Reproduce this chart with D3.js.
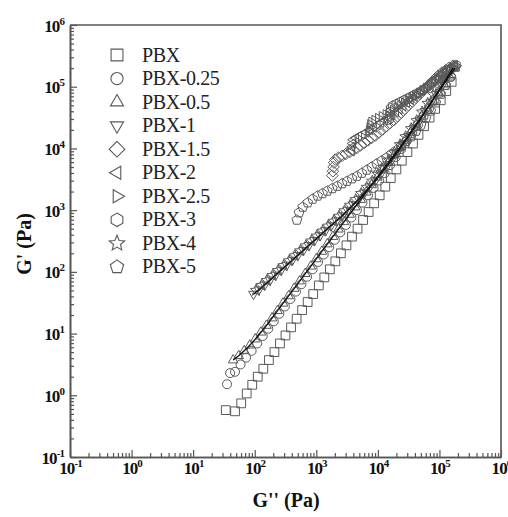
<!DOCTYPE html>
<html>
<head>
<meta charset="utf-8">
<script src="https://cdn.jsdelivr.net/npm/d3@7"></script>
<style>
    body { margin: 0; background: #fff; }
    svg { display: block; }
    text { font-family: "Liberation Serif", "Times New Roman", serif; }
</style>
</head>
<body>
<div id="chart"></div>
<script>
// Data: [G'' (Pa), G' (Pa)] pairs
const seriesNames = ['PBX', 'PBX-0.25', 'PBX-0.5', 'PBX-1', 'PBX-1.5', 'PBX-2', 'PBX-2.5', 'PBX-3', 'PBX-4', 'PBX-5'];

const pbxData = [[33.9,0.575],[47.9,0.55],[60.3,0.74],[74.1,1.07],[91.2,1.48],[112,2.0],[138,2.69],[170,3.72],
    [209,5.01],[257,6.92],[316,9.33],[389,12.6],[479,17.4],[589,24.0],[724,32.4],[891,43.7],[1100,60.3],
    [1350,81.3],[1660,110],[2040,148],[2510,200],[3090,269],[3800,372],[4680,501],[5750,692],[7080,933],
    [8710,1290],[10700,1740],[13200,2400],[16200,3310],[20000,4570],[24500,6310],[30200,8710],[37200,12000],
    [45700,16600],[56200,22900],[69200,31600],[85100,43700],[105000,60300],[129000,85100],[158000,120000]];

const pbx025Data = [[35.5,1.51],[39.8,2.29],[47.9,2.40],[58.9,3.16],[72.4,4.07],[89.1,5.25],[110,6.92],[135,9.12],
    [166,12.0],[204,15.8],[251,20.9],[309,27.5],[380,36.3],[468,47.9],[575,63.1],[708,83.2],[871,110],
    [1070,145],[1320,191],[1620,251],[2000,331],[2450,437],[3020,575],[3720,759],[4570,1000],[5620,1320],
    [6920,1740],[8510,2290],[10500,3020],[12900,3980],[15800,5370],[19500,7240],[24000,9770],[29500,13200],
    [36300,17800],[44700,24000],[55000,32400],[67600,43700],[83200,58900],[102000,79400],[126000,107000],
    [155000,145000]];

const pbx05Data = [[44.7,3.72],[55.0,4.37],[67.6,5.25],[83.2,6.46],[102,8.13],[126,10.5],[155,13.5],[191,17.8],
    [234,23.4],[288,30.9],[355,40.7],[437,53.7],[537,70.8],[661,93.3],[813,123],[1000,162],[1230,214],
    [1510,282],[1860,372],[2290,490],[2820,646],[3470,851],[4270,1120],[5250,1480],[6460,1950],[7940,2570],
    [9770,3390],[12000,4470],[14800,5890],[18200,7760],[22400,10200],[27500,13500],[33900,18200],
    [41700,24500],[51300,33100],[63100,44700],[77600,60300],[95500,81300],[117000,110000],[145000,148000],
    [178000,200000]];

const pbx1Data = [[95.5,43.7],[117,51.3],[145,61.7],[178,74.1],[219,89.1],[269,107],[331,129],[407,155],
    [501,186],[617,224],[759,269],[933,324],[1150,389],[1410,468],[1740,562],[2140,676],[2630,813],
    [3240,1000],[3980,1230],[4900,1510],[6030,1910],[7410,2400],[9120,3020],[11200,3890],[13800,5010],
    [17000,6610],[20900,8710],[25700,11700],[31600,15800],[38900,21400],[47900,28800],[58900,39800],
    [72400,55000],[89100,75900],[110000,105000],[135000,145000],[166000,200000]];

const pbx15Data = [[1820,3630],[1860,4270],[1910,5010],[1950,5890],[2040,6610],[2290,7080],[2630,7590],
    [3020,8130],[3470,8710],[3980,9330],[4570,10200],[5250,11200],[6030,12300],[6920,13500],[7940,14800],
    [9120,16200],[10500,18200],[12000,20400],[13800,22900],[15800,25700],[18200,28800],[20900,33100],
    [24000,38000],[27500,43700],[31600,50100],[36300,57500],[41700,66100],[47900,75900],[55000,87100],
    [63100,100000],[72400,115000],[83200,132000],[95500,151000],[110000,170000],[126000,186000],
    [145000,204000],[166000,219000]];

const pbx2Data = [[3720,9120],[3800,10500],[3890,12000],[3980,13800],[4370,14800],[4900,15800],[5620,17000],
    [6460,18200],[7410,20000],[8510,21900],[9770,24000],[11200,26300],[12900,28800],[14800,31600],
    [17000,34700],[19500,38900],[22400,43700],[25700,49000],[29500,55000],[33900,61700],[38900,69200],
    [44700,77600],[51300,87100],[58900,97700],[67600,110000],[77600,123000],[89100,138000],[102000,155000],
    [117000,170000],[135000,186000],[155000,204000],[178000,219000]];

const pbx25Data = [[7240,19500],[7410,21900],[7590,24500],[7940,26900],[8910,28800],[10200,30900],
    [11700,33100],[13500,35500],[15500,38000],[17800,41700],[20400,45700],[23400,50100],[26900,55000],
    [30900,60300],[35500,66100],[40700,72400],[46800,79400],[53700,87100],[61700,95500],[70800,107000],
    [81300,120000],[93300,135000],[107000,151000],[123000,166000],[141000,182000],[162000,200000],
    [186000,219000]];

const pbx3Data = [[15100,29500],[15500,33900],[15800,38900],[16200,44700],[17400,49000],[20000,52500],
    [22900,56200],[26300,60300],[30200,64600],[34700,69200],[39800,74100],[45700,79400],[52500,87100],
    [60300,95500],[69200,105000],[79400,117000],[91200,132000],[105000,148000],[120000,166000],
    [138000,182000],[158000,200000],[186000,224000]];

const pbx4Data = [[105,50.1],[129,60.3],[158,72.4],[195,87.1],[240,105],[295,126],[363,151],[447,182],
    [550,219],[676,263],[832,316],[1020,380],[1260,457],[1550,550],[1910,661],[2340,794],[2880,977],
    [3550,1200],[4370,1480],[5370,1860],[6610,2340],[8130,2950],[10000,3800],[12300,4900],[15100,6460],
    [18600,8510],[22900,11500],[28200,15500],[34700,20900],[42700,28200],[52500,38900],[64600,53700],
    [79400,74100],[97700,102000],[120000,141000],[148000,195000]];

const pbx5Data = [[484,692],[525,912],[603,1120],[724,1320],[871,1510],[1050,1700],[1260,1860],[1510,2040],
    [1820,2240],[2190,2450],[2630,2690],[3160,2950],[3800,3240],[4570,3550],[5500,3980],[6610,4470],
    [7940,5010],[9550,5620],[11500,6310],[13800,7080],[16600,8130],[20000,9330],[24000,11000],[28800,12900],
    [34700,15500],[41700,19100],[50100,24000],[60300,30900],[72400,40700],[87100,55000],[105000,75900],
    [126000,105000],[151000,145000],[182000,209000]];

const seriesData = [pbxData, pbx025Data, pbx05Data, pbx1Data, pbx15Data, pbx2Data, pbx25Data, pbx3Data, pbx4Data, pbx5Data];
const fittedSeries = [pbx05Data, pbx1Data];

const majorExponents = [-1, 0, 1, 2, 3, 4, 5, 6];

// Configuration
const config = {
    width: 508,
    height: 517,
    left: 70,
    right: 501,
    top: 25,
    bottom: 457,
    markerColor: '#5a5a5a',
    axisColor: '#555'
};

// Marker shapes: size is passed as radius squared
function polygon(n, start) {
    return {
        draw(ctx, size) {
            const r = Math.sqrt(size);
            for (let i = 0; i < n; i++) {
                const a = start + i * 2 * Math.PI / n;
                if (i === 0) ctx.moveTo(r * Math.cos(a), r * Math.sin(a));
                else ctx.lineTo(r * Math.cos(a), r * Math.sin(a));
            }
            ctx.closePath();
        }
    };
}
const circle = {
    draw(ctx, size) {
        const r = Math.sqrt(size);
        ctx.moveTo(r, 0);
        ctx.arc(0, 0, r, 0, 2 * Math.PI);
    }
};
const star = {
    draw(ctx, size) {
        const r = Math.sqrt(size), ri = r * 0.45;
        for (let i = 0; i < 10; i++) {
            const a = -Math.PI / 2 + i * Math.PI / 5;
            const rr = i % 2 ? ri : r;
            if (i === 0) ctx.moveTo(rr * Math.cos(a), rr * Math.sin(a));
            else ctx.lineTo(rr * Math.cos(a), rr * Math.sin(a));
        }
        ctx.closePath();
    }
};

const shapes = [
    { type: polygon(4, Math.PI / 4), r: 6.2 },      // square
    { type: circle, r: 4.5 },                      // circle
    { type: polygon(3, -Math.PI / 2), r: 5.6 },     // triangle up
    { type: polygon(3, Math.PI / 2), r: 5.6 },      // triangle down
    { type: polygon(4, -Math.PI / 2), r: 5.8 },     // diamond
    { type: polygon(3, Math.PI), r: 5.6 },          // triangle left
    { type: polygon(3, 0), r: 5.6 },                // triangle right
    { type: polygon(6, -Math.PI / 2), r: 5.0 },     // hexagon
    { type: star, r: 6.0 },                         // star
    { type: polygon(5, -Math.PI / 2), r: 5.2 }      // pentagon
];

const svg = d3.select('#chart')
    .append('svg')
    .attr('width', config.width)
    .attr('height', config.height);

const x = d3.scaleLog().domain([0.1, 1e6]).range([config.left, config.right]);
const y = d3.scaleLog().domain([0.1, 1e6]).range([config.bottom, config.top]);

const minorValues = [];
majorExponents.slice(0, -1).forEach(e => {
    for (let k = 2; k <= 9; k++) minorValues.push(k * Math.pow(10, e));
});
const majorValues = majorExponents.map(e => Math.pow(10, e));

// Minor ticks
svg.append('g')
    .attr('transform', `translate(0,${config.bottom})`)
    .call(d3.axisBottom(x).tickValues(minorValues).tickSize(-4).tickSizeOuter(0).tickFormat(''));
svg.append('g')
    .attr('transform', `translate(${config.left},0)`)
    .call(d3.axisLeft(y).tickValues(minorValues).tickSize(-4).tickSizeOuter(0).tickFormat(''));

// Major ticks and labels
const xAxisG = svg.append('g')
    .attr('transform', `translate(0,${config.bottom})`)
    .call(d3.axisBottom(x).tickValues(majorValues).tickSize(-7).tickSizeOuter(0).tickFormat(''));
const yAxisG = svg.append('g')
    .attr('transform', `translate(${config.left},0)`)
    .call(d3.axisLeft(y).tickValues(majorValues).tickSize(-7).tickSizeOuter(0).tickFormat(''));

function powerLabel(text, d) {
    text.append('tspan').text('10');
    text.append('tspan')
        .attr('dy', -7)
        .attr('font-size', 11)
        .text(Math.round(Math.log10(d)));
}

xAxisG.selectAll('.tick').append('text')
    .attr('y', 17)
    .attr('text-anchor', 'middle')
    .each(function(d) { powerLabel(d3.select(this), d); });

yAxisG.selectAll('.tick').append('text')
    .attr('x', -6)
    .attr('y', 6)
    .attr('text-anchor', 'end')
    .each(function(d) { powerLabel(d3.select(this), d); });

svg.selectAll('.tick text')
    .attr('fill', '#111')
    .attr('font-size', 17)
    .attr('font-weight', 'bold')
    .attr('letter-spacing', -0.9);

svg.selectAll('.domain, .tick line')
    .attr('stroke', config.axisColor)
    .attr('stroke-width', 1.2);
svg.selectAll('.domain').attr('stroke-width', 1.6);

// Top and right frame
svg.append('path')
    .attr('d', `M${x.range()[0]},${y.range()[1]}H${x.range()[1]}V${y.range()[0]}`)
    .attr('fill', 'none')
    .attr('stroke', config.axisColor)
    .attr('stroke-width', 1.6);

// Data markers
const symbol = d3.symbol();
seriesData.forEach((data, i) => {
    svg.append('g')
        .attr('class', 'series')
        .selectAll('path')
        .data(data)
        .join('path')
        .attr('transform', d => `translate(${x(d[0])},${y(d[1])})`)
        .attr('d', symbol.type(shapes[i].type).size(shapes[i].r * shapes[i].r)())
        .attr('fill', 'none')
        .attr('stroke', config.markerColor)
        .attr('stroke-width', 1);
});

// Fitted curves
const line = d3.line()
    .x(d => x(d[0]))
    .y(d => y(d[1]))
    .curve(d3.curveMonotoneX);
fittedSeries.forEach(data => {
    svg.append('path')
        .attr('d', line(data))
        .attr('fill', 'none')
        .attr('stroke', '#111')
        .attr('stroke-width', 1.3);
});

// Legend
const legend = svg.append('g').attr('class', 'legend');
seriesNames.forEach((name, i) => {
    const cy = 55 + i * 23.55;
    const s = shapes[i].r * 1.35;
    legend.append('path')
        .attr('transform', `translate(117,${cy})`)
        .attr('d', d3.symbol().type(shapes[i].type).size(s * s)())
        .attr('fill', 'none')
        .attr('stroke', config.markerColor)
        .attr('stroke-width', 1.1);
    legend.append('text')
        .attr('x', 142)
        .attr('y', cy + 6.5)
        .attr('font-size', 20)
        .attr('letter-spacing', -0.4)
        .attr('fill', '#222')
        .text(name);
});

// Axis titles
svg.append('text')
    .attr('transform', `translate(31,244) rotate(-90)`)
    .attr('text-anchor', 'middle')
    .attr('font-size', 20)
    .attr('font-weight', 'bold')
    .attr('fill', '#111')
    .text("G' (Pa)");

svg.append('text')
    .attr('x', 286)
    .attr('y', 507)
    .attr('text-anchor', 'middle')
    .attr('font-size', 20)
    .attr('font-weight', 'bold')
    .attr('fill', '#111')
    .text("G'' (Pa)");
</script>
</body>
</html>
